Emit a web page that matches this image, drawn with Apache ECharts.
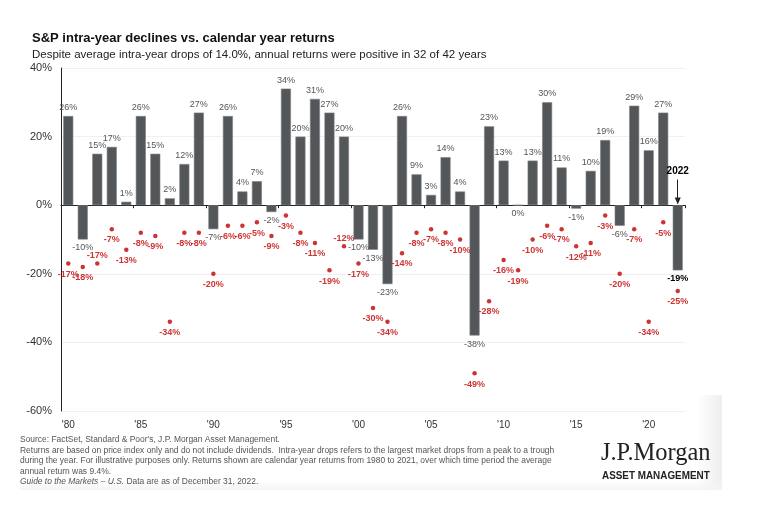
<!DOCTYPE html>
<html>
<head>
<meta charset="utf-8">
<script src="https://cdn.jsdelivr.net/npm/echarts@6/dist/echarts.min.js"></script>
<style>
html,body{margin:0;padding:0;background:#fff;}
#chart{width:780px;height:510px;}
</style>
</head>
<body>
<div id="chart"></div>
<script>
const years = ['1980','1981','1982','1983','1984','1985','1986','1987','1988','1989','1990','1991','1992','1993','1994','1995','1996','1997','1998','1999','2000','2001','2002','2003','2004','2005','2006','2007','2008','2009','2010','2011','2012','2013','2014','2015','2016','2017','2018','2019','2020','2021','2022'];
const annualReturns = [26,-10,15,17,1,26,15,2,12,27,-7,26,4,7,-2,34,20,31,27,20,-10,-13,-23,26,9,3,14,4,-38,23,13,0,13,30,11,-1,10,19,-6,29,16,27,-19];
const intraYearDrops = [-17,-18,-17,-7,-13,-8,-9,-34,-8,-8,-20,-6,-6,-5,-9,-3,-8,-11,-19,-12,-17,-30,-34,-14,-8,-7,-8,-10,-49,-28,-16,-19,-10,-6,-7,-12,-11,-3,-20,-7,-34,-5,-25];
const yTicks = {min: -60, max: 40, step: 20};
const labelAboveDot = ['1982','1999'];
const highlightYear = '2022';

const chart = echarts.init(document.getElementById('chart'), null, {renderer: 'canvas'});
const FONT = 'Liberation Sans, Arial, sans-serif';
const RED = '#c00000';
const FOOT = '8.45px Liberation Sans, Arial, sans-serif';

const barData = annualReturns.map((v, i) => {
  const isLast = years[i] === highlightYear;
  return {
    value: v,
    label: {
      position: v > 0 ? 'top' : 'bottom',
      color: isLast ? '#000' : '#555',
      fontWeight: isLast ? 'bold' : 'normal'
    }
  };
});
const dotData = intraYearDrops.map((v, i) => ({
  value: v,
  label: labelAboveDot.includes(years[i]) ? {position: 'top', distance: 1} : {}
}));

chart.setOption({
  animation: false,
  backgroundColor: '#fff',
  title: {
    text: 'S&P intra-year declines vs. calendar year returns',
    subtext: 'Despite average intra-year drops of 14.0%, annual returns were positive in 32 of 42 years',
    left: 27, top: 27, itemGap: 4,
    textStyle: {fontFamily: FONT, fontSize: 13, fontWeight: 'bold', color: '#111'},
    subtextStyle: {fontFamily: FONT, fontSize: 11.5, color: '#222'}
  },
  grid: {left: 61, right: 95, top: 68, bottom: 99, containLabel: false},
  xAxis: [
    {
      type: 'category', data: years, position: 'bottom',
      axisLine: {show: false, onZero: false},
      axisTick: {show: false},
      axisLabel: {
        interval: (idx) => idx % 5 === 0,
        formatter: (v) => "'" + v.slice(2),
        color: '#333', fontFamily: FONT, fontSize: 10, margin: 9
      }
    },
    {
      type: 'category', data: years, position: 'bottom',
      axisLine: {show: true, onZero: true, lineStyle: {color: '#222', width: 1}},
      axisTick: {show: true, interval: (idx) => idx % 5 === 0 && idx > 0, length: 3, lineStyle: {color: '#222'}},
      axisLabel: {show: false}
    }
  ],
  yAxis: {
    type: 'value', min: yTicks.min, max: yTicks.max, interval: yTicks.step,
    axisLine: {show: true, lineStyle: {color: '#222', width: 1}},
    axisTick: {show: false},
    splitLine: {lineStyle: {color: '#f0f0f0'}},
    axisLabel: {formatter: '{value}%', color: '#333', fontFamily: FONT, fontSize: 11, margin: 9}
  },
  series: [
    {
      type: 'bar', data: barData, barWidth: 10, xAxisIndex: 0,
      itemStyle: {color: '#54575a', borderColor: '#7d8083', borderWidth: 0.6},
      label: {show: true, formatter: '{c}%', fontFamily: FONT, fontSize: 9, distance: 4},
      markLine: {
        silent: true,
        symbol: ['none', 'triangle'], symbolSize: [6, 7],
        lineStyle: {color: '#222', width: 1, type: 'solid'},
        label: {show: true, position: 'start', formatter: highlightYear, color: '#000', fontWeight: 'bold', fontFamily: FONT, fontSize: 10, distance: 3},
        data: [[{coord: [highlightYear, 7.5]}, {coord: [highlightYear, 1.2]}]]
      },
      z: 2
    },
    {
      type: 'scatter', data: dotData, symbolSize: 4.5, xAxisIndex: 0,
      itemStyle: {color: RED},
      label: {show: true, position: 'bottom', distance: 4, formatter: '{c}%', color: RED, fontWeight: 'bold', fontFamily: FONT, fontSize: 9},
      z: 3
    }
  ],
  graphic: [
    {type: 'rect', x: 697, y: 395, z: -10, shape: {width: 25, height: 95},
      style: {fill: new echarts.graphic.LinearGradient(0, 0, 1, 0, [{offset: 0, color: 'rgba(238,238,238,0)'}, {offset: 1, color: 'rgba(238,238,238,1)'}])}},
    {type: 'rect', x: 20, y: 480, z: -10, shape: {width: 702, height: 10},
      style: {fill: new echarts.graphic.LinearGradient(0, 0, 0, 1, [{offset: 0, color: 'rgba(244,244,244,0)'}, {offset: 1, color: 'rgba(244,244,244,1)'}])}},
    {type: 'text', left: 20, top: 436, style: {text: "Source: FactSet, Standard & Poor's, J.P. Morgan Asset Management.", font: FOOT, fill: '#555'}},
    {type: 'text', left: 20, top: 446.5, style: {text: 'Returns are based on price index only and do not include dividends.  Intra-year drops refers to the largest market drops from a peak to a trough', font: FOOT, fill: '#555'}},
    {type: 'text', left: 20, top: 457, style: {text: 'during the year. For illustrative purposes only. Returns shown are calendar year returns from 1980 to 2021, over which time period the average', font: FOOT, fill: '#555'}},
    {type: 'text', left: 20, top: 467.5, style: {text: 'annual return was 9.4%.', font: FOOT, fill: '#555'}},
    {type: 'text', left: 20, top: 478, style: {
      text: '{i|Guide to the Markets – U.S.} Data are as of December 31, 2022.',
      font: FOOT, fill: '#555',
      rich: {i: {fontStyle: 'italic', fontFamily: 'Liberation Sans, Arial, sans-serif', fontSize: 8.45, fill: '#555'}}
    }},
    {type: 'text', x: 601, y: 440, scaleX: 0.94, style: {text: 'J.P.Morgan', font: '26px Liberation Serif, DejaVu Serif, serif', fill: '#222'}},
    {type: 'text', x: 602, y: 469.5, scaleX: 0.86, style: {text: 'ASSET MANAGEMENT', font: 'bold 11.5px Liberation Sans, Arial, sans-serif', fill: '#222'}}
  ]
});
</script>
</body>
</html>
